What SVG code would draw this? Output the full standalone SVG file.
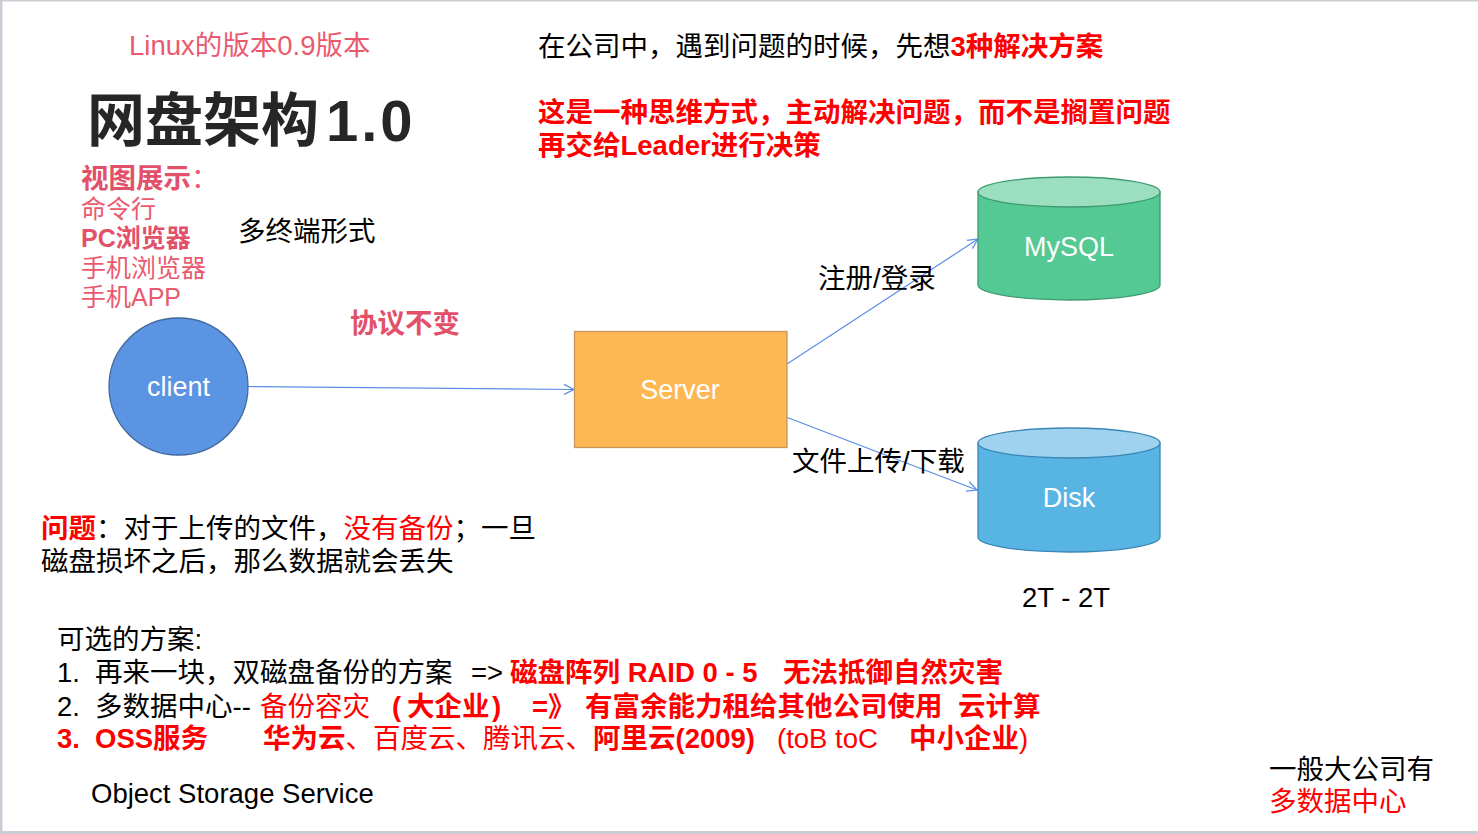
<svg xmlns="http://www.w3.org/2000/svg" width="1478" height="834" viewBox="0 0 1478 834">
  <style>
    text { font-family: "Liberation Sans", "Noto Sans CJK SC", sans-serif; font-size: 27.5px; fill: #000; }
    .pink { fill: #ea5a6e; }
    .pinkb { fill: #e2506a; font-weight: bold; }
    .red { fill: #ff0000; }
    .redb { fill: #ff0000; font-weight: bold; }
    .b { font-weight: bold; }
    .list { font-size: 25px; }
    .lbl { fill: #ffffff; font-size: 27px; text-anchor: middle; }
    .edge { fill: none; stroke: #5b8ee6; stroke-width: 1.2; marker-end: url(#arrow); }
  </style>
  <defs>
    <marker id="arrow" viewBox="0 0 12 12" refX="11" refY="6" markerWidth="12" markerHeight="12" markerUnits="userSpaceOnUse" orient="auto">
      <path d="M1,1 L11,6 L1,11" fill="none" stroke="#5b8ee6" stroke-width="1.2"/>
    </marker>
  </defs>

  <!-- page -->
  <rect x="0" y="0" width="1478" height="834" fill="#ffffff"/>
  <rect x="0" y="0" width="1478" height="1.5" fill="#c9ced4"/>
  <rect x="0" y="0" width="2.5" height="834" fill="#c9ced4"/>
  <rect x="0" y="831" width="1478" height="3" fill="#c9ced4"/>

  <!-- heading block -->
  <text x="129" y="55" class="pink" style="font-size:27.5px">Linux的版本0.9版本</text>
  <text x="87" y="141" style="font-size:58px;font-weight:bold;fill:#262626">网盘架构<tspan x="326" letter-spacing="3">1.0</tspan></text>

  <text x="81" y="188" class="pinkb">视图展示<tspan class="pink" style="font-weight:normal">：</tspan></text>
  <text x="81" y="218" class="pink list">命令行</text>
  <text x="81" y="247" class="pinkb list">PC浏览器</text>
  <text x="81" y="277" class="pink list">手机浏览器</text>
  <text x="81" y="306" class="pink list">手机APP</text>
  <text x="238" y="241">多终端形式</text>
  <text x="350" y="333" class="pinkb">协议不变</text>

  <text x="538" y="56">在公司中，遇到问题的时候，先想<tspan class="redb">3种解决方案</tspan></text>
  <text x="538" y="122" class="redb">这是一种思维方式，主动解决问题，而不是搁置问题</text>
  <text x="538" y="155" class="redb">再交给Leader进行决策</text>

  <!-- connectors -->
  <g id="connectors">
    <path class="edge" d="M248,386.5 L574,389.5"/>
    <path class="edge" d="M787,364 L978,239"/>
    <path class="edge" d="M786,417 L977,490"/>
    <text x="818" y="288">注册/登录</text>
    <text x="792" y="471">文件上传/下载</text>
  </g>

  <!-- client -->
  <g id="client">
    <ellipse cx="178.5" cy="386.5" rx="69.5" ry="68.5" fill="#5b94e2" stroke="#41699a" stroke-width="1.3"/>
    <text x="178.5" y="396" class="lbl">client</text>
  </g>

  <!-- server -->
  <g id="server">
    <rect x="574.5" y="331.5" width="212.5" height="116" fill="#fdb753" stroke="#c8975a" stroke-width="1.3"/>
    <text x="680" y="399" class="lbl">Server</text>
  </g>

  <!-- MySQL -->
  <g id="mysql">
    <path d="M978,192 L978,285 A91,15 0 0 0 1160,285 L1160,192 Z" fill="#54c993" stroke="#3d9b6f" stroke-width="1.3"/>
    <ellipse cx="1069" cy="192" rx="91" ry="15" fill="#9cdfc0" stroke="#3d9b6f" stroke-width="1.3"/>
    <text x="1069" y="256" class="lbl">MySQL</text>
  </g>

  <!-- Disk -->
  <g id="disk">
    <path d="M978,443 L978,537 A91,15 0 0 0 1160,537 L1160,443 Z" fill="#57b4e3" stroke="#3a86b6" stroke-width="1.3"/>
    <ellipse cx="1069" cy="443" rx="91" ry="15" fill="#9ed2ee" stroke="#3a86b6" stroke-width="1.3"/>
    <text x="1069" y="507" class="lbl">Disk</text>
  </g>
  <text x="1022" y="607">2T - 2T</text>

  <!-- problem statement -->
  <text x="41" y="538"><tspan class="redb">问题</tspan>：对于上传的文件，<tspan class="red">没有备份</tspan>；一旦</text>
  <text x="41" y="571">磁盘损坏之后，那么数据就会丢失</text>

  <!-- options -->
  <text x="57" y="649">可选的方案:</text>
  <text y="682"><tspan x="57">1.</tspan><tspan x="95">再来一块，双磁盘备份的方案</tspan><tspan x="471">=&gt;</tspan><tspan x="510" class="redb">磁盘阵列 RAID 0 - 5</tspan><tspan x="783" class="redb">无法抵御自然灾害</tspan></text>
  <text y="716"><tspan x="57">2.</tspan><tspan x="95">多数据中心--</tspan><tspan x="260" class="red">备份容灾</tspan><tspan x="392" class="redb">(</tspan><tspan x="407" class="redb">大企业</tspan><tspan x="492" class="redb">)</tspan><tspan x="532" class="redb">=》</tspan><tspan x="585" class="redb">有富余能力租给其他公司使用</tspan><tspan x="958" class="redb">云计算</tspan></text>
  <text y="748" class="red"><tspan x="57" class="redb">3.</tspan><tspan x="95" class="redb">OSS服务</tspan><tspan x="263" class="redb">华为云</tspan><tspan>、百度云、腾讯云、</tspan><tspan class="redb">阿里云(2009)</tspan><tspan x="777">(toB toC</tspan><tspan x="909" class="redb">中小企业</tspan><tspan>)</tspan></text>
  <text x="91" y="803">Object Storage Service</text>

  <text x="1269" y="779">一般大公司有</text>
  <text x="1269" y="811" class="red">多数据中心</text>
</svg>
